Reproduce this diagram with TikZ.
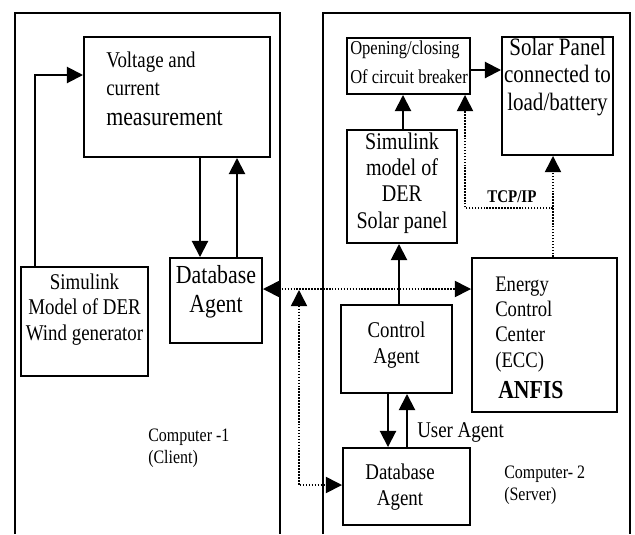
\documentclass[tikz,border=0pt]{standalone}
\usepackage{fontspec}
\setmainfont{Liberation Serif}[FakeStretch=0.84]
\usetikzlibrary{arrows.meta,fit}

\begin{document}
\begin{tikzpicture}[x=0.025cm,y=-0.025cm,>={Triangle[length=11.5pt,width=11.5pt]},
        box/.style={draw,line width=1.4pt,inner sep=0pt},
        lab/.style={inner sep=0pt,align=center,font=\fontsize{16}{17.8}\selectfont},
        link/.style={->,line width=1.4pt},
        net/.style={densely dotted,line width=1.1pt}]
        \useasboundingbox (0,0) rectangle (635,534);

        %computer 1 e computer 2
        \draw[line width=1.4pt](15,534)--(15,13)--(280,13)--(280,534);
        \draw[line width=1.4pt](323,534)--(323,13)--(630,13)--(630,534);

        %blocchi
        \node[box,fit={(84,37)(270,157)}] (volt) {};
        \node[box,fit={(21,267)(148,376)}] (wind) {};
        \node[box,fit={(170,258)(262,343)}] (dbL) {};
        \node[box,fit={(347,38)(470,94)}] (brk) {};
        \node[box,fit={(502,37)(613,155)}] (pv) {};
        \node[box,fit={(347,130)(457,243)}] (simpv) {};
        \node[box,fit={(341,305)(452,393)}] (ctrl) {};
        \node[box,fit={(472,258)(617,412)}] (ecc) {};
        \node[box,fit={(343,448)(470,525)}] (dbR) {};

        %testi (base = ultima riga)
        \node[lab,align=left,anchor=base west,font=\fontsize{16}{20}\selectfont] (voltT) at (106,125) {Voltage and\\current\\[1pt]{\fontsize{18.5}{21}\selectfont measurement}};
        \node[lab,anchor=base] (windT) at (wind.north |- 0,340) {Simulink\\Model of DER\\Wind generator};
        \node[lab,anchor=base,font=\fontsize{18.5}{20.6}\selectfont] (dbLT) at (dbL.north |- 0,312) {Database\\Agent};
        \node[lab,align=left,anchor=base west,font=\fontsize{13.5}{15.3}\selectfont] (pc1) at (148,463) {Computer -1\\(Client)};
        \node[lab,align=left,anchor=base west,font=\fontsize{14}{20.6}\selectfont] (brkT) at (350,83) {Opening/closing\\Of circuit breaker};
        \node[lab,anchor=base,font=\fontsize{17.8}{19.5}\selectfont] (pvT) at (pv.north |- 0,110) {Solar Panel\\connected to\\load/battery};
        \node[lab,anchor=base,font=\fontsize{17}{18.5}\selectfont] (simpvT) at (simpv.north |- 0,228) {Simulink\\model of\\DER\\Solar panel};
        \node[lab,anchor=base] (ctrlT) at (ctrl.north |- 0,363) {Control\\Agent};
        \node[lab,align=left,anchor=base west,font=\fontsize{15.8}{17.8}\selectfont] (eccT) at (495,367) {Energy\\Control\\Center\\(ECC)};
        \node[lab,anchor=base west,font=\fontsize{18.4}{20}\selectfont\bfseries] (anfis) at (498,398) {ANFIS};
        \node[lab,anchor=base west] (user) at (417,437) {User Agent};
        \node[lab,anchor=base] (dbRT) at (400,505) {Database\\Agent};
        \node[lab,align=left,anchor=base west,font=\fontsize{13.5}{15.6}\selectfont] (pc2) at (504,500) {Computer- 2\\(Server)};
        \node[lab,anchor=base west,font=\fontsize{12.7}{14}\selectfont\bfseries] (tcp) at (487,202) {TCP/IP};

        %frecce
        \draw[link] (wind.north west) ++(15,0) |- (volt.west |- 0,75);
        \draw[link] (volt.south -| 200,0) -- (dbL.north -| 200,0);
        \draw[link] (dbL.north -| 237,0) -- (volt.south -| 237,0);
        \draw[link] (ctrl.north -| 399,0) -- (simpv.south -| 399,0);
        \draw[link] (simpv.north -| 403,0) -- (brk.south -| 403,0);
        \draw[link] (brk.east |- 0,70) -- (pv.west |- 0,70);
        \draw[link] (ctrl.south -| 388,0) -- (dbR.north -| 388,0);
        \draw[link] (dbR.north -| 407,0) -- (ctrl.south -| 407,0);

        %collegamenti tratteggiati
        \coordinate (tap) at (299,290);
        \coordinate (tcpP) at (553,208);
        \draw[net,<->] (dbL.east |- 0,289) -- (ecc.west |- 0,289);
        \draw[net,<->] (tap) -- (tap |- 0,485) -- (dbR.west |- 0,485);
        \draw[net,->] (ecc.north -| 553,0) -- (pv.south -| 553,0);
        \draw[net,->] (tcpP) -| (brk.south -| 465,0);
\end{tikzpicture}
\end{document}
